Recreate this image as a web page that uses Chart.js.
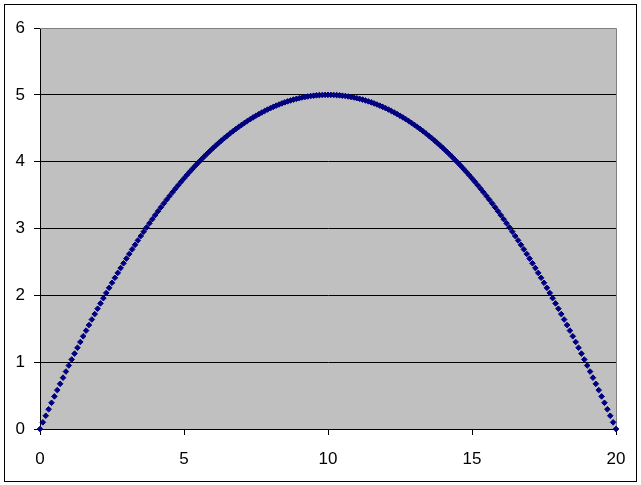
<!DOCTYPE html>
<html>
<head>
<meta charset="utf-8">
<script src="https://cdn.jsdelivr.net/npm/chart.js@4"></script>
<style>
  html, body { margin: 0; padding: 0; background: #fff; }
  #wrap { width: 641px; height: 485px; }
</style>
</head>
<body>
<div id="wrap"><canvas id="chart" width="641" height="485"></canvas></div>
<script>
// x values (one marker every 0.1)
const xValues = [
  0, 0.1, 0.2, 0.3, 0.4, 0.5, 0.6, 0.7, 0.8, 0.9,
  1, 1.1, 1.2, 1.3, 1.4, 1.5, 1.6, 1.7, 1.8, 1.9,
  2, 2.1, 2.2, 2.3, 2.4, 2.5, 2.6, 2.7, 2.8, 2.9,
  3, 3.1, 3.2, 3.3, 3.4, 3.5, 3.6, 3.7, 3.8, 3.9,
  4, 4.1, 4.2, 4.3, 4.4, 4.5, 4.6, 4.7, 4.8, 4.9,
  5, 5.1, 5.2, 5.3, 5.4, 5.5, 5.6, 5.7, 5.8, 5.9,
  6, 6.1, 6.2, 6.3, 6.4, 6.5, 6.6, 6.7, 6.8, 6.9,
  7, 7.1, 7.2, 7.3, 7.4, 7.5, 7.6, 7.7, 7.8, 7.9,
  8, 8.1, 8.2, 8.3, 8.4, 8.5, 8.6, 8.7, 8.8, 8.9,
  9, 9.1, 9.2, 9.3, 9.4, 9.5, 9.6, 9.7, 9.8, 9.9,
  10, 10.1, 10.2, 10.3, 10.4, 10.5, 10.6, 10.7, 10.8, 10.9,
  11, 11.1, 11.2, 11.3, 11.4, 11.5, 11.6, 11.7, 11.8, 11.9,
  12, 12.1, 12.2, 12.3, 12.4, 12.5, 12.6, 12.7, 12.8, 12.9,
  13, 13.1, 13.2, 13.3, 13.4, 13.5, 13.6, 13.7, 13.8, 13.9,
  14, 14.1, 14.2, 14.3, 14.4, 14.5, 14.6, 14.7, 14.8, 14.9,
  15, 15.1, 15.2, 15.3, 15.4, 15.5, 15.6, 15.7, 15.8, 15.9,
  16, 16.1, 16.2, 16.3, 16.4, 16.5, 16.6, 16.7, 16.8, 16.9,
  17, 17.1, 17.2, 17.3, 17.4, 17.5, 17.6, 17.7, 17.8, 17.9,
  18, 18.1, 18.2, 18.3, 18.4, 18.5, 18.6, 18.7, 18.8, 18.9,
  19, 19.1, 19.2, 19.3, 19.4, 19.5, 19.6, 19.7, 19.8, 19.9,
  20
];

const yValues = [
  0, 0.0995, 0.198, 0.2955, 0.392, 0.4875, 0.582, 0.6755, 0.768, 0.8595,
  0.95, 1.0395, 1.128, 1.2155, 1.302, 1.3875, 1.472, 1.5555, 1.638, 1.7195,
  1.8, 1.8795, 1.958, 2.0355, 2.112, 2.1875, 2.262, 2.3355, 2.408, 2.4795,
  2.55, 2.6195, 2.688, 2.7555, 2.822, 2.8875, 2.952, 3.0155, 3.078, 3.1395,
  3.2, 3.2595, 3.318, 3.3755, 3.432, 3.4875, 3.542, 3.5955, 3.648, 3.6995,
  3.75, 3.7995, 3.848, 3.8955, 3.942, 3.9875, 4.032, 4.0755, 4.118, 4.1595,
  4.2, 4.2395, 4.278, 4.3155, 4.352, 4.3875, 4.422, 4.4555, 4.488, 4.5195,
  4.55, 4.5795, 4.608, 4.6355, 4.662, 4.6875, 4.712, 4.7355, 4.758, 4.7795,
  4.8, 4.8195, 4.838, 4.8555, 4.872, 4.8875, 4.902, 4.9155, 4.928, 4.9395,
  4.95, 4.9595, 4.968, 4.9755, 4.982, 4.9875, 4.992, 4.9955, 4.998, 4.9995,
  5,
  4.9995, 4.998, 4.9955, 4.992, 4.9875, 4.982, 4.9755, 4.968, 4.9595, 4.95,
  4.9395, 4.928, 4.9155, 4.902, 4.8875, 4.872, 4.8555, 4.838, 4.8195, 4.8,
  4.7795, 4.758, 4.7355, 4.712, 4.6875, 4.662, 4.6355, 4.608, 4.5795, 4.55,
  4.5195, 4.488, 4.4555, 4.422, 4.3875, 4.352, 4.3155, 4.278, 4.2395, 4.2,
  4.1595, 4.118, 4.0755, 4.032, 3.9875, 3.942, 3.8955, 3.848, 3.7995, 3.75,
  3.6995, 3.648, 3.5955, 3.542, 3.4875, 3.432, 3.3755, 3.318, 3.2595, 3.2,
  3.1395, 3.078, 3.0155, 2.952, 2.8875, 2.822, 2.7555, 2.688, 2.6195, 2.55,
  2.4795, 2.408, 2.3355, 2.262, 2.1875, 2.112, 2.0355, 1.958, 1.8795, 1.8,
  1.7195, 1.638, 1.5555, 1.472, 1.3875, 1.302, 1.2155, 1.128, 1.0395, 0.95,
  0.8595, 0.768, 0.6755, 0.582, 0.4875, 0.392, 0.2955, 0.198, 0.0995, 0
];

const xTicks = [0, 5, 10, 15, 20];
const yTicks = [0, 1, 2, 3, 4, 5, 6];

const points = xValues.map((x, i) => ({ x: x, y: yValues[i] }));

// grey plot area, grey top/right frame and the outer chart border
const excelLook = {
  id: "excelLook",
  beforeDraw(chart) {
    const ctx = chart.ctx;
    const a = chart.chartArea;
    ctx.save();
    ctx.fillStyle = "#ffffff";
    ctx.fillRect(0, 0, chart.width, chart.height);
    ctx.fillStyle = "#c0c0c0";
    ctx.fillRect(a.left, a.top, a.right - a.left, a.bottom - a.top);
    ctx.strokeStyle = "#000000";
    ctx.lineWidth = 1;
    ctx.strokeRect(4.5, 4.5, 632, 477);
    ctx.restore();
  },
  beforeDatasetsDraw(chart) {
    const ctx = chart.ctx;
    const a = chart.chartArea;
    ctx.save();
    ctx.strokeStyle = "#808080";
    ctx.lineWidth = 1;
    ctx.beginPath();
    ctx.moveTo(a.left, Math.round(a.top) + 0.5);
    ctx.lineTo(Math.round(a.right) + 0.5, Math.round(a.top) + 0.5);
    ctx.lineTo(Math.round(a.right) + 0.5, a.bottom);
    ctx.stroke();
    ctx.restore();
  }
};

const font = { family: "'Liberation Sans', Arial, sans-serif", size: 17 };

new Chart(document.getElementById("chart").getContext("2d"), {
  type: "scatter",
  data: {
    datasets: [{
      data: points,
      showLine: false,
      pointStyle: "rectRot",
      pointRadius: 2.8,
      pointBorderWidth: 1,
      pointBackgroundColor: "#000080",
      pointBorderColor: "#000080",
      clip: false
    }]
  },
  options: {
    responsive: false,
    animation: false,
    layout: { padding: { left: 0, top: 28, right: 25, bottom: 0 } },
    plugins: {
      legend: { display: false },
      tooltip: { enabled: false }
    },
    scales: {
      x: {
        type: "linear",
        min: 0,
        max: 20,
        afterBuildTicks: (scale) => { scale.ticks = xTicks.map(v => ({ value: v })); },
        afterFit: (scale) => { scale.height = 56; },
        grid: { drawOnChartArea: false, tickLength: 6, tickColor: "#000000" },
        border: { color: "#000000", width: 1 },
        ticks: { color: "#000000", font: font, padding: 14, maxRotation: 0 }
      },
      y: {
        type: "linear",
        min: 0,
        max: 6,
        afterBuildTicks: (scale) => { scale.ticks = yTicks.map(v => ({ value: v })); },
        afterFit: (scale) => { scale.width = 40; },
        grid: {
          color: (c) => (c.tick && c.tick.value === 6 ? "#808080" : "#000000"),
          tickLength: 6,
          tickColor: "#000000"
        },
        border: { color: "#000000", width: 1 },
        ticks: { color: "#000000", font: font, padding: 9 }
      }
    }
  },
  plugins: [excelLook]
});
</script>
</body>
</html>
